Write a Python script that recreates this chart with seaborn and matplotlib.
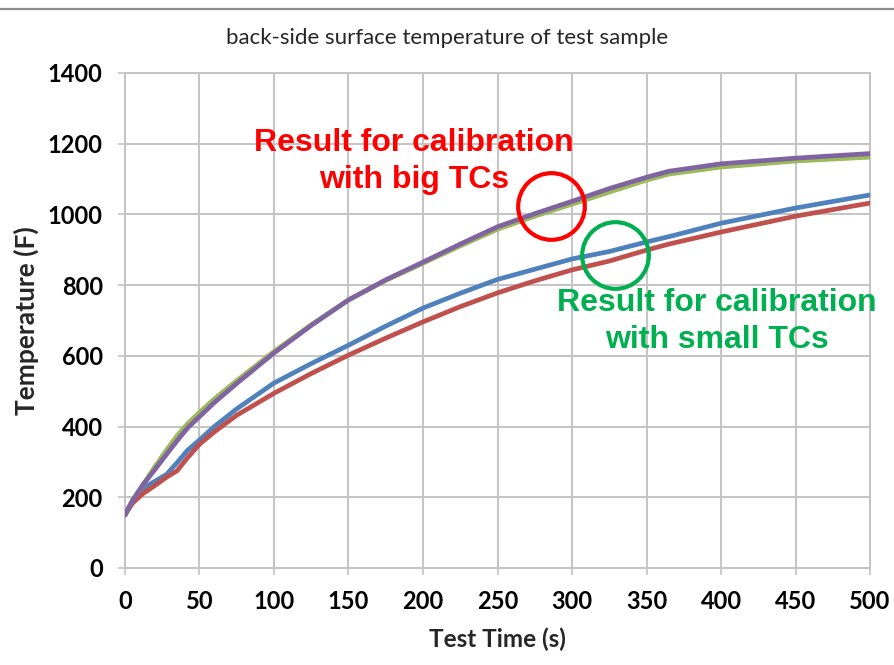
import matplotlib
matplotlib.use("Agg")
import matplotlib.pyplot as plt
import pandas as pd
import seaborn as sns
from matplotlib.lines import Line2D

# Back-side surface temperature (F) against test time (s) for four calibration runs
time_s = [0, 5, 12, 20, 28, 35, 42, 50, 60, 75, 100, 125, 150, 175, 200,
          225, 250, 275, 300, 325, 350, 365, 400, 450, 500]
small_tc_1 = [150, 190, 225, 245, 265, 298, 333, 362, 400, 450, 523, 578, 630, 684, 735,
              777, 816, 845, 874, 895, 922, 937, 975, 1018, 1055]
small_tc_2 = [150, 183, 210, 233, 257, 275, 312, 350, 385, 432, 494, 550, 602, 650, 696,
              739, 778, 812, 843, 868, 899, 916, 950, 995, 1032]
big_tc_1 = [150, 192, 234, 286, 334, 374, 408, 440, 478, 530, 612, 688, 758, 813, 862,
            911, 958, 995, 1029, 1063, 1097, 1114, 1134, 1151, 1162]
big_tc_2 = [150, 190, 235, 278, 322, 360, 396, 428, 468, 522, 608, 686, 758, 815, 865,
            916, 965, 1002, 1037, 1073, 1105, 1122, 1143, 1159, 1172]

series_names = ["small TC 1", "small TC 2", "big TC 1", "big TC 2"]
series_colors = ["#4F81BD", "#C0504D", "#9BBB59", "#8064A2"]

x_ticks = [0, 50, 100, 150, 200, 250, 300, 350, 400, 450, 500]
y_ticks = [0, 200, 400, 600, 800, 1000, 1200, 1400]

title_text = "back-side surface temperature of test sample"
x_label = "Test Time (s)"
y_label = "Temperature (F)"
big_note = "Result for calibration\nwith big TCs"
small_note = "Result for calibration\nwith small TCs"

frames = []
for name, vals in zip(series_names, [small_tc_1, small_tc_2, big_tc_1, big_tc_2]):
    frames.append(pd.DataFrame({"time": time_s, "temp": vals, "run": name}))
data = pd.concat(frames, ignore_index=True)

sns.set_theme(style="white")
plt.rcParams["font.family"] = ["Lato", "DejaVu Sans"]

fig = plt.figure(figsize=(8.94, 6.65), dpi=100)
ax = fig.add_axes([0.1398, 0.1459, 0.8334, 0.7444])

grid_color = "#C4C4C4"
sns.lineplot(data=data, x="time", y="temp", hue="run", hue_order=series_names,
             palette=dict(zip(series_names, series_colors)), linewidth=3.4,
             legend=False, ax=ax, zorder=3)

ax.set_xlim(0, 500)
ax.set_ylim(0, 1400)
ax.set_xticks(x_ticks)
ax.set_yticks(y_ticks)
ax.set_xticklabels([str(v) for v in x_ticks], fontsize=17, fontweight="bold")
ax.set_yticklabels([str(v) for v in y_ticks], fontsize=17, fontweight="bold")
ax.grid(True, color=grid_color, linewidth=1.4, zorder=0)
ax.set_axisbelow(True)
for sp in ax.spines.values():
    sp.set_color(grid_color)
    sp.set_linewidth(1.4)
ax.tick_params(axis="both", which="major", length=5, width=1.2, color=grid_color,
               direction="out", pad=11, labelcolor="black")
ax.tick_params(axis="x", bottom=True)
ax.tick_params(axis="y", left=True)

ax.set_xlabel(x_label, fontsize=17.5, fontweight="bold", labelpad=10)
ax.set_ylabel(y_label, fontsize=19, fontweight="bold", labelpad=6)
fig.text(0.5, 1 - 38 / 665, title_text, fontsize=16, ha="center", va="center")

# Callouts marking the two groups of curves
ax.plot([286], [1024], marker="o", markersize=48, markerfacecolor="none",
        markeredgecolor="#FF0000", markeredgewidth=3.0, zorder=4)
ax.plot([329], [885], marker="o", markersize=48, markerfacecolor="none",
        markeredgecolor="#00B050", markeredgewidth=3.0, zorder=4)
ax.text(194, 1150, big_note, color="#FF0000", fontsize=23, fontweight="bold",
        ha="center", va="center", linespacing=1.32,
        family=["Liberation Sans", "DejaVu Sans"], zorder=5)
ax.text(397, 697, small_note, color="#00B050", fontsize=23, fontweight="bold",
        ha="center", va="center", linespacing=1.32,
        family=["Liberation Sans", "DejaVu Sans"], zorder=5)

# Frame line across the top of the figure
fig.add_artist(Line2D([0, 1], [1 - 9 / 665, 1 - 9 / 665], color="#8C8C8C",
                      linewidth=1.6, transform=fig.transFigure))

fig.savefig("out.png", dpi=100)
